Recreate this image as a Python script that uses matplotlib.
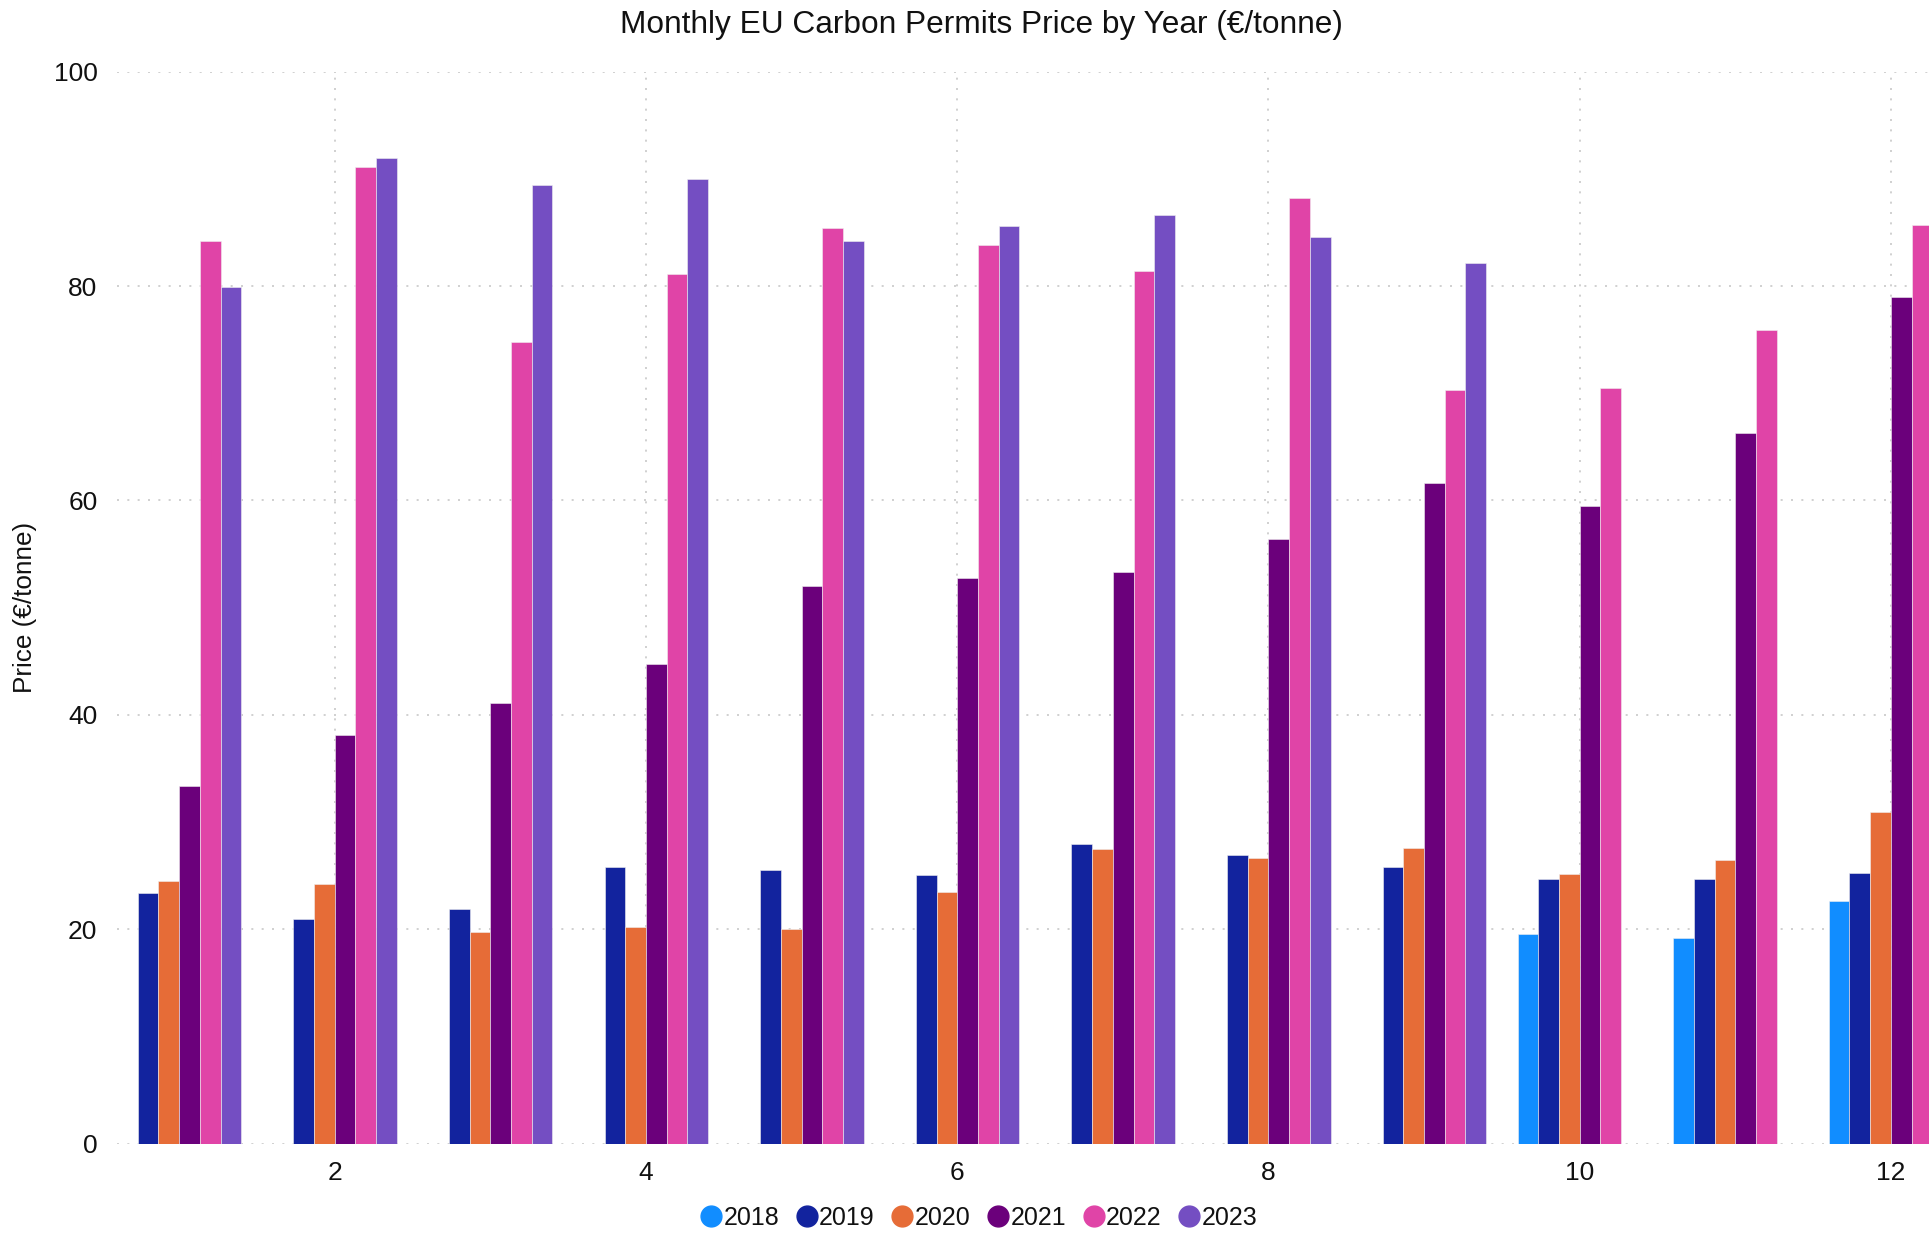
import numpy as np
import matplotlib
matplotlib.use("Agg")
import matplotlib.pyplot as plt
from matplotlib.lines import Line2D

plt.rcParams["font.family"] = ["Liberation Sans", "DejaVu Sans"]

months = np.arange(1, 13)
years = ["2018", "2019", "2020", "2021", "2022", "2023"]
colors = ["#118DFF", "#12239E", "#E66C37", "#6B007B", "#E044A7", "#744EC2"]

nan = np.nan
p2018 = [nan, nan, nan, nan, nan, nan, nan, nan, nan, 19.6, 19.2, 22.7]
p2019 = [23.4, 21.0, 21.9, 25.8, 25.5, 25.1, 28.0, 26.9, 25.8, 24.7, 24.7, 25.3]
p2020 = [24.5, 24.2, 19.8, 20.2, 20.0, 23.5, 27.5, 26.7, 27.6, 25.2, 26.5, 31.0]
p2021 = [33.4, 38.1, 41.1, 44.8, 52.0, 52.8, 53.3, 56.4, 61.6, 59.5, 66.3, 79.0]
p2022 = [84.2, 91.1, 74.8, 81.1, 85.4, 83.8, 81.4, 88.2, 70.3, 70.5, 75.9, 85.7]
p2023 = [79.9, 91.9, 89.4, 90.0, 84.2, 85.6, 86.6, 84.6, 82.1, nan, nan, nan]
series = [p2018, p2019, p2020, p2021, p2022, p2023]

txt = "#111111"

fig = plt.figure(figsize=(19.29, 12.33), dpi=100)
ax = fig.add_axes([0.0606, 0.0722, 0.9394, 0.8698])

w = 0.133
for i, (vals, c) in enumerate(zip(series, colors)):
    ax.bar(months + (i - 2.5) * w, vals, width=w, color=c,
           edgecolor="#f0f0f0", linewidth=0.4, zorder=3)

ax.set_xlim(0.6, 12.245)
ax.set_ylim(0, 100)
ax.set_yticks([0, 20, 40, 60, 80, 100])
ax.set_xticks([2, 4, 6, 8, 10, 12])
ax.tick_params(length=0, labelsize=19, colors=txt, pad=14)
ax.tick_params(axis="x", pad=12)
for s in ax.spines.values():
    s.set_visible(False)
ax.grid(True, color="#c8c8c8", linestyle=(0, (1.2, 5.0)), linewidth=1.2, zorder=0)

ax.set_ylabel("Price (€/tonne)", fontsize=18.8, color=txt, labelpad=12)
fig.text(0.509, 0.98, "Monthly EU Carbon Permits Price by Year (€/tonne)",
         ha="center", va="center", fontsize=22.8, color=txt)

handles = [Line2D([], [], marker="o", linestyle="none", markersize=15,
                  markerfacecolor=c, markeredgecolor=c) for c in colors]
fig.legend(handles, years, loc="center", bbox_to_anchor=(0.507, 0.012),
           ncol=6, frameon=False, fontsize=18, handletextpad=0.0,
           columnspacing=0.6, handlelength=1.0, borderaxespad=0,
           labelcolor=txt)

fig.savefig("out.png", dpi=100)
